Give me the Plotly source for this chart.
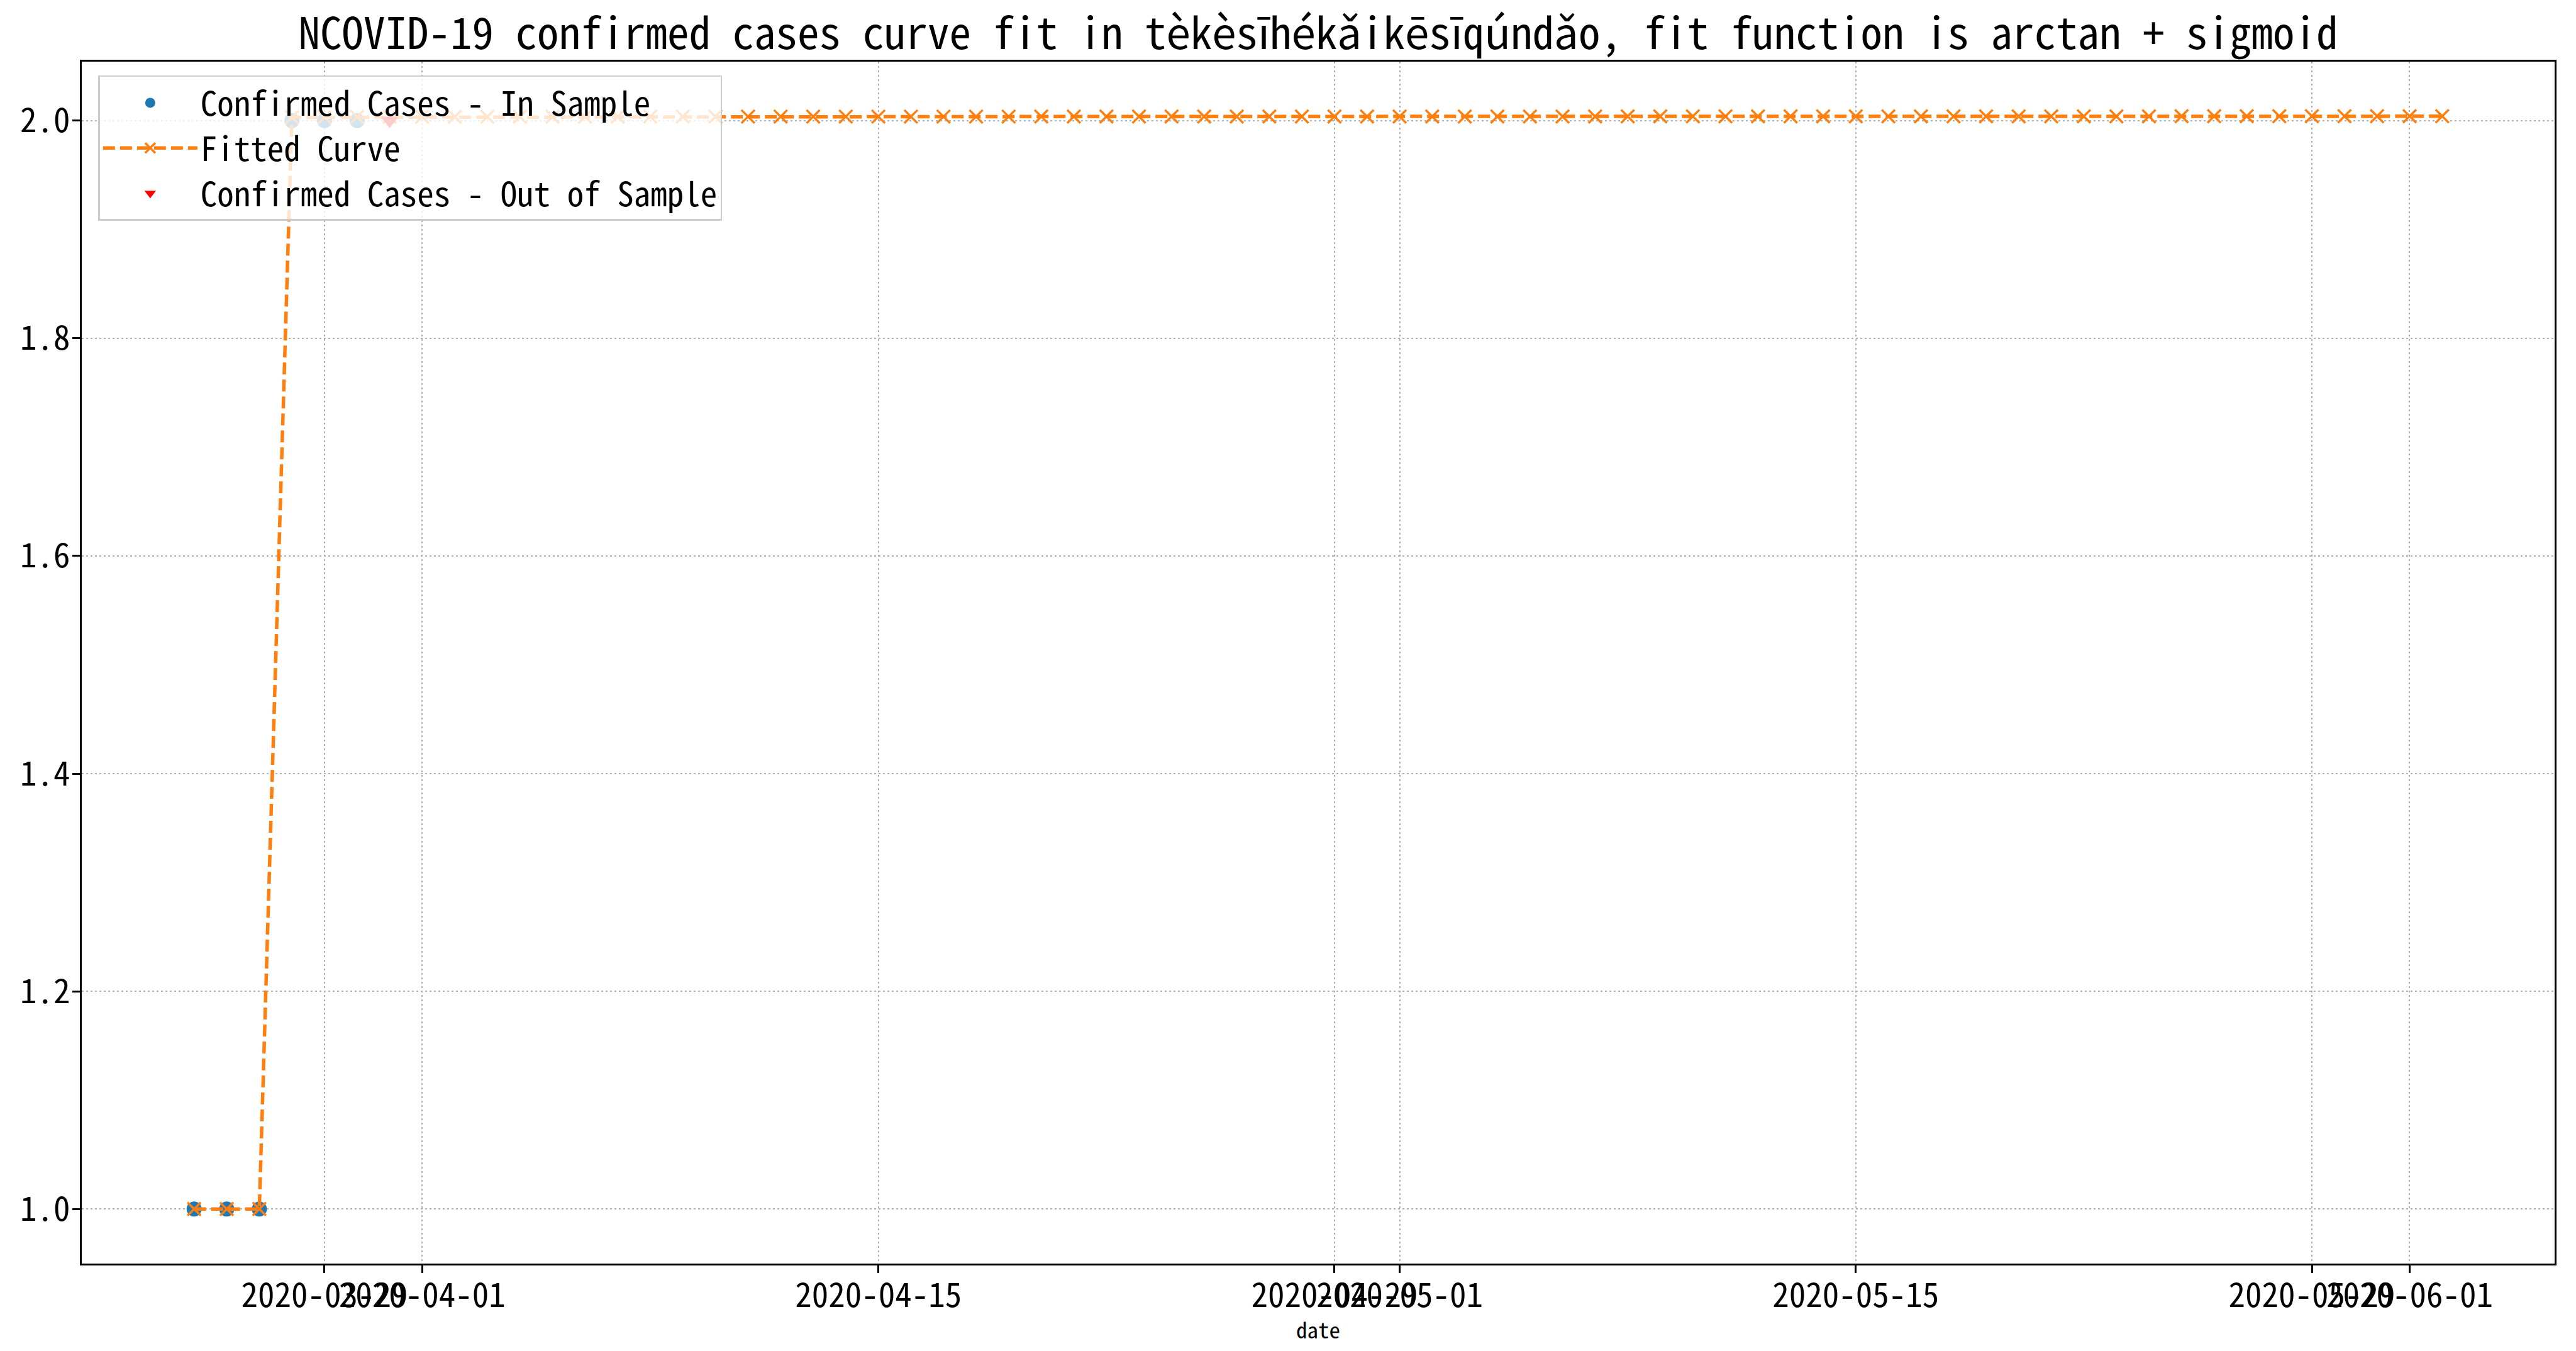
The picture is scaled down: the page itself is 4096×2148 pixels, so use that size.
import plotly.graph_objects as go

# ---- data ----
in_dates = ["2020-03-25", "2020-03-26", "2020-03-27", "2020-03-28", "2020-03-29", "2020-03-30"]
in_values = [1, 1, 1, 2, 2, 2]

out_dates = ["2020-03-31"]
out_values = [2]

fit_dates = [
    "2020-03-25", "2020-03-26", "2020-03-27", "2020-03-28", "2020-03-29", "2020-03-30", "2020-03-31",
    "2020-04-01", "2020-04-02", "2020-04-03", "2020-04-04", "2020-04-05", "2020-04-06", "2020-04-07",
    "2020-04-08", "2020-04-09", "2020-04-10", "2020-04-11", "2020-04-12", "2020-04-13", "2020-04-14",
    "2020-04-15", "2020-04-16", "2020-04-17", "2020-04-18", "2020-04-19", "2020-04-20", "2020-04-21",
    "2020-04-22", "2020-04-23", "2020-04-24", "2020-04-25", "2020-04-26", "2020-04-27", "2020-04-28",
    "2020-04-29", "2020-04-30", "2020-05-01", "2020-05-02", "2020-05-03", "2020-05-04", "2020-05-05",
    "2020-05-06", "2020-05-07", "2020-05-08", "2020-05-09", "2020-05-10", "2020-05-11", "2020-05-12",
    "2020-05-13", "2020-05-14", "2020-05-15", "2020-05-16", "2020-05-17", "2020-05-18", "2020-05-19",
    "2020-05-20", "2020-05-21", "2020-05-22", "2020-05-23", "2020-05-24", "2020-05-25", "2020-05-26",
    "2020-05-27", "2020-05-28", "2020-05-29", "2020-05-30", "2020-05-31", "2020-06-01", "2020-06-02",
]
fit_values = [
    1.000, 1.000, 1.000, 2.003, 2.003, 2.0035, 2.0035,
    2.0035, 2.0035, 2.0035, 2.0036, 2.0036, 2.0036, 2.0036,
    2.0037, 2.0037, 2.0037, 2.0037, 2.0037, 2.0037, 2.0037,
    2.0037, 2.0037, 2.0037, 2.0037, 2.0037, 2.0038, 2.0038,
    2.0038, 2.0038, 2.0038, 2.0038, 2.0038, 2.0038, 2.0038,
    2.0038, 2.0038, 2.0038, 2.0038, 2.0038, 2.0038, 2.0038,
    2.0038, 2.0038, 2.0039, 2.0039, 2.0039, 2.0039, 2.0039,
    2.0039, 2.0039, 2.0039, 2.0039, 2.0039, 2.0039, 2.0039,
    2.0039, 2.0039, 2.0039, 2.0039, 2.0039, 2.0040, 2.0040,
    2.0040, 2.0040, 2.0040, 2.0040, 2.0040, 2.0040, 2.0040,
]

x_tick_vals = ["2020-03-29", "2020-04-01", "2020-04-15", "2020-04-29", "2020-05-01",
               "2020-05-15", "2020-05-29", "2020-06-01"]
y_tick_vals = [1.0, 1.2, 1.4, 1.6, 1.8, 2.0]

title_text = "NCOVID-19 confirmed cases curve fit in tèkèsīhékǎikēsīqúndǎo, fit function is arctan + sigmoid"
x_label = "date"

FONT = "Noto Sans Mono CJK SC, Noto Sans Mono CJK JP, Liberation Mono, monospace"

fig = go.Figure()
fig.add_trace(go.Scatter(
    x=in_dates, y=in_values, mode="markers", name="Confirmed Cases - In Sample",
    marker=dict(symbol="circle", size=24, color="#1f77b4"),
))
fig.add_trace(go.Scatter(
    x=fit_dates, y=fit_values, mode="lines+markers", name="Fitted Curve",
    line=dict(color="#ff7f0e", width=5.5, dash="19px,8px"),
    marker=dict(symbol="x-thin", size=21, color="#ff7f0e", line=dict(color="#ff7f0e", width=3.5)),
))
fig.add_trace(go.Scatter(
    x=out_dates, y=out_values, mode="markers", name="Confirmed Cases - Out of Sample",
    marker=dict(symbol="triangle-down", size=24, color="#ff0000"),
))

fig.update_layout(
    width=4096, height=2148,
    margin=dict(l=130, r=34, t=98, b=139),
    paper_bgcolor="white", plot_bgcolor="white",
    font=dict(family=FONT, size=53, color="black"),
    title=dict(text=title_text, x=0.5, xref="paper", xanchor="center",
               y=1 - 54 / 2148, yanchor="middle",
               font=dict(family=FONT, size=69, color="black")),
    showlegend=True,
    legend=dict(x=0.0067, y=0.9885, xanchor="left", yanchor="top",
                bgcolor="rgba(255,255,255,0.8)", bordercolor="#cccccc", borderwidth=2.5,
                font=dict(family=FONT, size=53, color="black"),
                itemwidth=150, tracegroupgap=0),
    annotations=[dict(text=x_label, xref="paper", yref="paper", x=0.5, y=-0.054,
                      xanchor="center", yanchor="middle", showarrow=False,
                      font=dict(family=FONT, size=35, color="black"))],
)

fig.update_xaxes(
    type="date", range=["2020-03-21 13:12", "2020-06-05 10:48"],
    tickmode="array", tickvals=x_tick_vals, ticktext=x_tick_vals, tickangle=0,
    showline=True, linecolor="black", linewidth=2.8, mirror=True,
    ticks="outside", ticklen=12, tickwidth=2.5, tickcolor="black",
    ticklabelstandoff=-10,
    showgrid=True, gridcolor="#b0b0b0", gridwidth=2.4, griddash="3px,4px",
    zeroline=False, automargin=False,
    tickfont=dict(family=FONT, size=53, color="black"),
)
fig.update_yaxes(
    range=[0.9498, 2.0542],
    tickmode="array", tickvals=y_tick_vals, ticktext=[f"{v:.1f}" for v in y_tick_vals],
    showline=True, linecolor="black", linewidth=2.8, mirror=True,
    ticks="outside", ticklen=12, tickwidth=2.5, tickcolor="black",
    ticklabelstandoff=-7,
    showgrid=True, gridcolor="#b0b0b0", gridwidth=2.4, griddash="3px,4px",
    zeroline=False, automargin=False,
    tickfont=dict(family=FONT, size=53, color="black"),
)

fig.write_html("out.html")
